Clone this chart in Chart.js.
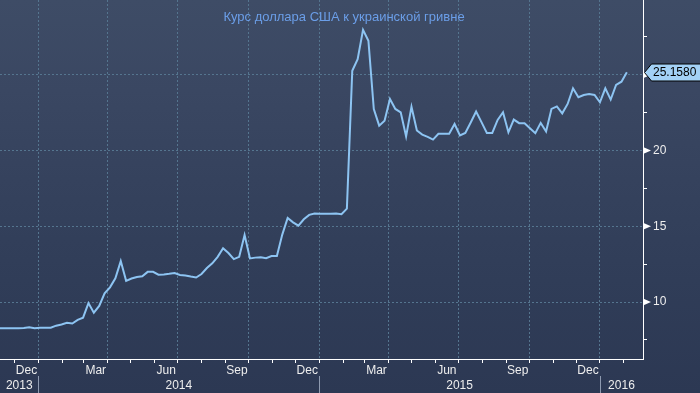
<!DOCTYPE html>
<html>
<head>
<meta charset="utf-8">
<script src="https://cdn.jsdelivr.net/npm/chart.js@4.4.1/dist/chart.umd.min.js"></script>
<style>
html,body{margin:0;padding:0;}
body{width:700px;height:393px;overflow:hidden;
  background:linear-gradient(to bottom,#3e4c66 0px,#3a4762 90px,#35425d 180px,#303d58 280px,#2c3853 393px);}
#wrap{position:relative;width:700px;height:393px;}
#title{position:absolute;left:0;top:9px;width:688px;text-align:center;
  font-family:"Liberation Sans",Arial,sans-serif;font-size:13px;line-height:15px;color:#6b9ee8;}
</style>
</head>
<body>
<div id="wrap">
  <canvas id="c" width="700" height="393"></canvas>
  <div id="title"></div>
</div>
<script>
// ---------- data ----------
const chartTitle = 'Курс доллара США к украинской гривне';

const dates = [
  '2013-11-08','2013-11-15','2013-11-22','2013-11-29','2013-12-06','2013-12-13','2013-12-20','2013-12-27',
  '2014-01-03','2014-01-10','2014-01-17','2014-01-24','2014-01-31','2014-02-07','2014-02-14','2014-02-21','2014-02-28',
  '2014-03-07','2014-03-14','2014-03-21','2014-03-28','2014-04-04','2014-04-11','2014-04-18','2014-04-25',
  '2014-05-02','2014-05-09','2014-05-16','2014-05-23','2014-05-30','2014-06-06','2014-06-13','2014-06-20','2014-06-27',
  '2014-07-04','2014-07-11','2014-07-18','2014-07-25','2014-08-01','2014-08-08','2014-08-15','2014-08-22','2014-08-29',
  '2014-09-05','2014-09-12','2014-09-19','2014-09-26','2014-10-03','2014-10-10','2014-10-17','2014-10-24','2014-10-31',
  '2014-11-07','2014-11-14','2014-11-21','2014-11-28','2014-12-05','2014-12-12','2014-12-19','2014-12-26',
  '2015-01-02','2015-01-09','2015-01-16','2015-01-23','2015-01-30','2015-02-06','2015-02-13','2015-02-20','2015-02-27',
  '2015-03-06','2015-03-13','2015-03-20','2015-03-27','2015-04-03','2015-04-10','2015-04-17','2015-04-24',
  '2015-05-01','2015-05-08','2015-05-15','2015-05-22','2015-05-29','2015-06-05','2015-06-12','2015-06-19','2015-06-26',
  '2015-07-03','2015-07-10','2015-07-17','2015-07-24','2015-07-31','2015-08-07','2015-08-14','2015-08-21','2015-08-28',
  '2015-09-04','2015-09-11','2015-09-18','2015-09-25','2015-10-02','2015-10-09','2015-10-16','2015-10-23','2015-10-30',
  '2015-11-06','2015-11-13','2015-11-20','2015-11-27','2015-12-04','2015-12-11','2015-12-18','2015-12-25',
  '2016-01-01','2016-01-08','2016-01-15','2016-01-22','2016-01-29','2016-02-05'
];

const rates = [
  8.27, 8.27, 8.27, 8.27, 8.27, 8.28, 8.33, 8.27,
  8.30, 8.30, 8.30, 8.44, 8.52, 8.63, 8.58, 8.82, 8.97, 9.93,
  9.30, 9.74, 10.57, 10.97, 11.56, 12.70, 11.40, 11.55, 11.65, 11.70,
  11.99, 11.99, 11.80, 11.82, 11.86, 11.91, 11.78, 11.75, 11.68, 11.62,
  11.85, 12.24, 12.55, 12.98, 13.55, 13.23, 12.83, 12.98, 14.42, 12.88,
  12.93, 12.96, 12.89, 13.03, 13.03, 14.45, 15.55, 15.26, 15.04, 15.46,
  15.75, 15.84, 15.82, 15.82, 15.83, 15.84, 15.79, 16.16, 25.26, 26.03,
  27.96, 27.24, 22.74, 21.64, 21.97, 23.40, 22.74, 22.52, 20.92, 22.89,
  21.32, 21.05, 20.90, 20.72, 21.10, 21.10, 21.10, 21.75, 20.99, 21.16,
  21.85, 22.57, 21.87, 21.16, 21.16, 22.02, 22.52, 21.20, 22.04, 21.80,
  21.80, 21.47, 21.14, 21.82, 21.25, 22.74, 22.91, 22.45, 23.07, 24.10,
  23.51, 23.66, 23.72, 23.66, 23.18, 24.10, 23.36, 24.32, 24.54, 25.158
];

const lastValueLabel = '25.1580';
const xRangeStart = '2013-11-12';
const xRangeEnd = '2016-02-26';
const yRangeMin = 6.24;
const yRangeMax = 29.93;
const yMajorTicks = [10, 15, 20, 25];
const yMinorTicks = [7.5, 12.5, 17.5, 22.5, 27.5];
const monthLabelNames = {11: 'Dec', 2: 'Mar', 5: 'Jun', 8: 'Sep'};
const yearLabels = ['2013', '2014', '2015', '2016'];

// ---------- helpers ----------
document.getElementById('title').textContent = chartTitle;
const xMinV = Date.parse(xRangeStart);
const xMaxV = Date.parse(xRangeEnd);

const monthStarts = [];
const midLabels = new Map();
const quarterStarts = new Set();
{
  const d0 = new Date(xMinV);
  let yy = d0.getUTCFullYear(), mm = d0.getUTCMonth() + 1;
  while (true) {
    if (mm > 11) { mm = 0; yy++; }
    const v = Date.UTC(yy, mm, 1);
    if (v > xMaxV) break;
    monthStarts.push(v);
    if (mm % 3 === 0) quarterStarts.add(v);
    mm++;
  }
  // labels centred in the labelled months
  let y2 = d0.getUTCFullYear(), m2 = d0.getUTCMonth();
  while (true) {
    const s = Date.UTC(y2, m2, 1);
    if (s > xMaxV) break;
    const e = Date.UTC(m2 === 11 ? y2 + 1 : y2, (m2 + 1) % 12, 1);
    if (monthLabelNames[m2] && s >= xMinV - 20 * 864e5) midLabels.set((s + e) / 2, monthLabelNames[m2]);
    m2++; if (m2 > 11) { m2 = 0; y2++; }
  }
}
const monthStartSet = new Set(monthStarts);

const yearCenters = new Map();
const yearStarts = [];
yearLabels.forEach(lbl => {
  const yr = parseInt(lbl, 10);
  const s = Date.UTC(yr, 0, 1), e = Date.UTC(yr + 1, 0, 1);
  if (s > xMinV && s < xMaxV) yearStarts.push(s);
  const a = Math.max(s, xMinV), b = Math.min(e, xMaxV);
  yearCenters.set((a + b) / 2, lbl);
});

const points = dates.map((d, i) => ({x: Date.parse(d), y: rates[i]}));

const gridColor = '#55758f';
const labelFont = {family: '"Liberation Sans", Arial, sans-serif', size: 12};

const decor = {
  id: 'decor',
  afterDraw(chart) {
    const ctx = chart.ctx;
    const ys = chart.scales.y, xs = chart.scales.x, x3 = chart.scales.x3;
    ctx.save();
    // year separators
    ctx.strokeStyle = '#8e9ab0';
    ctx.lineWidth = 1;
    yearStarts.forEach(v => {
      const px = Math.round(xs.getPixelForValue(v)) + 0.5;
      ctx.beginPath();
      ctx.moveTo(px, x3.top);
      ctx.lineTo(px, chart.height);
      ctx.stroke();
    });
    // major tick arrows
    ctx.fillStyle = '#ffffff';
    yMajorTicks.forEach(v => {
      const py = ys.getPixelForValue(v);
      ctx.beginPath();
      ctx.moveTo(ys.left, py - 3.5);
      ctx.lineTo(ys.left + 8, py);
      ctx.lineTo(ys.left, py + 3.5);
      ctx.closePath();
      ctx.fill();
    });
    // last value tag
    const last = rates[rates.length - 1];
    const py = Math.round(ys.getPixelForValue(last)) + 0.5;
    ctx.beginPath();
    ctx.moveTo(ys.left + 1.5, py);
    ctx.lineTo(ys.left + 8.5, py - 8.5);
    ctx.lineTo(chart.width + 2, py - 8.5);
    ctx.lineTo(chart.width + 2, py + 8.5);
    ctx.lineTo(ys.left + 8.5, py + 8.5);
    ctx.closePath();
    ctx.fillStyle = '#a3d1f6';
    ctx.fill();
    ctx.strokeStyle = '#000000';
    ctx.lineWidth = 1;
    ctx.stroke();
    ctx.fillStyle = '#000000';
    ctx.font = '12px "Liberation Sans", Arial, sans-serif';
    ctx.textAlign = 'left';
    ctx.textBaseline = 'middle';
    ctx.fillText(lastValueLabel, ys.left + 10, py + 0.5);
    ctx.restore();
  }
};

new Chart(document.getElementById('c'), {
  type: 'line',
  data: {
    datasets: [{
      data: points,
      borderColor: '#8dc4f2',
      borderWidth: 2,
      pointRadius: 0,
      tension: 0,
      fill: false
    }]
  },
  options: {
    responsive: false,
    animation: false,
    layout: {padding: 0},
    plugins: {legend: {display: false}, tooltip: {enabled: false}, title: {display: false}},
    scales: {
      x: {
        type: 'linear',
        position: 'bottom',
        weight: 0,
        min: xMinV,
        max: xMaxV,
        afterBuildTicks: s => {
          const vals = monthStarts.concat(Array.from(midLabels.keys())).sort((a, b) => a - b);
          s.ticks = vals.map(v => ({value: v}));
        },
        afterFit: s => { s.height = 17; s.paddingLeft = 0; s.paddingRight = 0; },
        ticks: {
          autoSkip: false, maxRotation: 0, minRotation: 0, padding: 0,
          color: '#eeeeee', font: labelFont,
          callback: v => midLabels.get(v) || ''
        },
        grid: {
          drawOnChartArea: true,
          color: c => (c.tick && quarterStarts.has(c.tick.value)) ? gridColor : 'rgba(0,0,0,0)',
          tickColor: c => (c.tick && monthStartSet.has(c.tick.value)) ? '#ffffff' : 'rgba(0,0,0,0)',
          tickLength: 4,
          lineWidth: 1,
          tickBorderDash: []
        },
        border: {display: true, color: '#ffffff', width: 1, dash: [2, 2]}
      },
      x3: {
        type: 'linear',
        position: 'bottom',
        weight: 1,
        min: xMinV,
        max: xMaxV,
        afterBuildTicks: s => { s.ticks = Array.from(yearCenters.keys()).map(v => ({value: v})); },
        afterFit: s => { s.height = 17; s.paddingLeft = 0; s.paddingRight = 0; },
        ticks: {
          autoSkip: false, maxRotation: 0, minRotation: 0, padding: 2,
          color: '#eeeeee', font: labelFont,
          callback: v => yearCenters.get(v) || ''
        },
        grid: {display: false, drawTicks: false},
        border: {display: false}
      },
      y: {
        type: 'linear',
        position: 'right',
        min: yRangeMin,
        max: yRangeMax,
        afterBuildTicks: s => {
          s.ticks = yMinorTicks.concat(yMajorTicks).sort((a, b) => a - b).map(v => ({value: v}));
        },
        afterFit: s => { s.width = 57; s.paddingTop = 0; s.paddingBottom = 0; },
        ticks: {
          padding: 6, color: '#eeeeee', font: labelFont,
          callback: v => yMajorTicks.includes(v) ? String(v) : ''
        },
        grid: {
          color: c => (c.tick && yMajorTicks.includes(c.tick.value)) ? gridColor : 'rgba(0,0,0,0)',
          tickColor: '#ffffff',
          tickLength: 4,
          lineWidth: 1,
          tickBorderDash: []
        },
        border: {display: true, color: '#ffffff', width: 1, dash: [2, 2]}
      }
    }
  },
  plugins: [decor]
});
</script>
</body>
</html>
